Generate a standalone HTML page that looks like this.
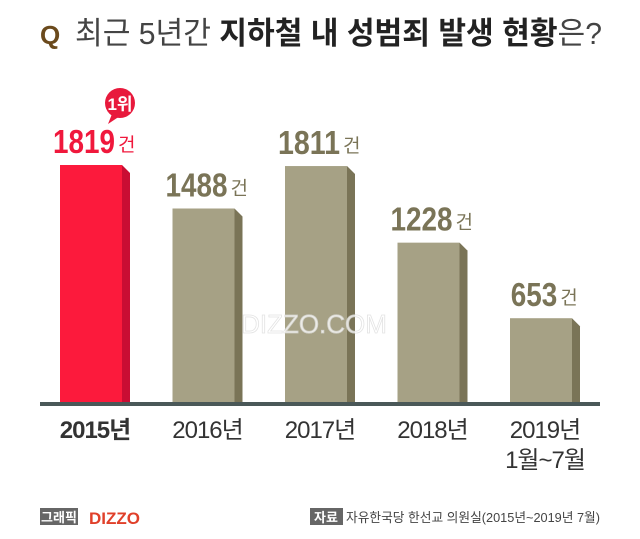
<!DOCTYPE html>
<html><head><meta charset="utf-8"><style>
body{margin:0;background:#fff;}
svg text{font-family:"Liberation Sans","Noto Sans CJK KR",sans-serif;}
</style></head><body>
<svg width="640" height="534" viewBox="0 0 640 534">
<g>
<text x="40" y="44" font-size="26" font-weight="bold" fill="#6b4a1c" font-family="Liberation Sans,sans-serif">Q</text>
<text x="75" y="44" font-size="31" fill="#444" textLength="527" lengthAdjust="spacingAndGlyphs" font-family="Liberation Sans,'Noto Sans CJK KR',sans-serif">최근 5년간 <tspan font-weight="bold" fill="#222">지하철 내 성범죄 발생 현황</tspan>은?</text>
</g>
<g id="bars"></g>
<rect x="40" y="402" width="560" height="4" fill="#4a5858"/>
<text x="314" y="333" font-size="26" fill="#fff" stroke="#ddd" stroke-width="0.8" text-anchor="middle" font-family="Liberation Sans,sans-serif" opacity="0.8">DIZZO.COM</text>
<g>
<circle cx="120" cy="103" r="15" fill="#e8193c"/>
<path d="M112 114 L108 124 L120 116 Z" fill="#e8193c"/>
<text x="120" y="110" font-size="17" font-weight="bold" fill="#fff" text-anchor="middle">1위</text>
</g>
<g>
<rect x="40" y="508" width="38" height="17" fill="#666"/>
<text x="59" y="522" font-size="13" font-weight="bold" fill="#fff" text-anchor="middle">그래픽</text>
<text x="89" y="524" font-size="17" font-weight="bold" fill="#e0402a">DIZZO</text>
<rect x="310" y="508" width="33" height="17" fill="#666"/>
<text x="326" y="522" font-size="13" font-weight="bold" fill="#fff" text-anchor="middle">자료</text>
<text x="346" y="522" font-size="13" fill="#444" textLength="254" lengthAdjust="spacingAndGlyphs">자유한국당 한선교 의원실(2015년~2019년 7월)</text>
</g>
</svg>
<script>
const categories=["2015년","2016년","2017년","2018년","2019년"];
const subLabels=["","","","","1월~7월"];
const values=[1819,1488,1811,1228,653];
const valueLabels=["1819","1488","1811","1228","653"];
const NS="http://www.w3.org/2000/svg";
const g=document.getElementById("bars");
const base=404, scale=239/1819;
const xPos=i=>60+i*112.5;
const yPos=v=>base-v*scale;
function mk(t,a){const e=document.createElementNS(NS,t);for(const k in a)e.setAttribute(k,a[k]);return e;}
values.forEach((v,i)=>{
  const x=xPos(i),y=yPos(v),w=62,hl=i===0;
  const side=mk("path",{d:`M${x+w} ${y} L${x+w+8} ${y+8} L${x+w+8} ${base} L${x+w} ${base} Z`,fill:hl?"#c90d33":"#7a7457"});
  
  
  g.appendChild(side);
  const r=mk("rect",{x:x,y:y,width:w,height:base-y,fill:hl?"#fc1a3c":"#a6a185"});
  
  
  g.appendChild(r);
  const n=valueLabels[i].length, tw=n*15.5;
  const sx=x+w/2+4-(tw+22)/2;
  const t=mk("text",{x:sx,y:y-12,"font-size":33,"font-weight":"bold",fill:hl?"#f0183c":"#7a7457",textLength:tw,lengthAdjust:"spacingAndGlyphs"});
  t.textContent=valueLabels[i];
  
  
  g.appendChild(t);
  const u=mk("text",{x:sx+tw+3,y:y-14,"font-size":19,fill:hl?"#f0183c":"#7a7457"});
  u.textContent="건";
  
  
  g.appendChild(u);
  const c=mk("text",{x:x+w/2+4,y:438,"font-size":24,fill:"#333","text-anchor":"middle","letter-spacing":"-1","font-weight":hl?"bold":"normal"});
  c.textContent=categories[i];
  
  
  g.appendChild(c);
  if(subLabels[i]){
    const s=mk("text",{x:x+w/2+4,y:468,"font-size":24,fill:"#333","text-anchor":"middle","letter-spacing":"-1"});
    s.textContent=subLabels[i];
    
    
    g.appendChild(s);
  }
});
</script>
</body></html>
